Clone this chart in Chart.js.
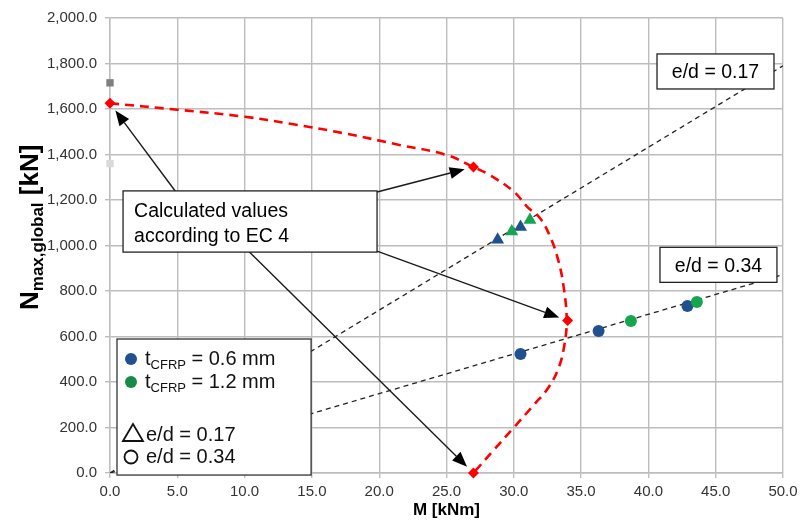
<!DOCTYPE html>
<html>
<head>
<meta charset="utf-8">
<script src="https://cdn.jsdelivr.net/npm/chart.js@4"></script>
<style>
  html, body { margin: 0; padding: 0; background: #fff; }
  #wrap { width: 804px; height: 521px; }
</style>
</head>
<body>
<div id="wrap"><canvas id="c" width="804" height="521"></canvas></div>
<script>
// values: M [kNm], N [kN]
const ecCurveM = [0, 5, 10, 13.4, 17.5, 21.5, 25, 27, 28.2, 30, 31, 31.95, 32.7, 33.3, 33.7, 33.93, 33.75, 33.35, 32.6, 31.5, 30, 28.5, 27];
const ecCurveN = [1625, 1597, 1566, 1535, 1492, 1442, 1398, 1345, 1310, 1237, 1170, 1120, 1039, 936, 819, 672, 560, 465, 378, 300, 200, 100, 0];
const ecPointsM = [0, 27, 34, 27];
const ecPointsN = [1625, 1345, 670, 0];
const greyM = [0];
const greyN = [1715];
const lightGreyM = [0];
const lightGreyN = [1360];
const lineM = [0, 50];
const line017N = [0, 1790];
const line034N = [0, 872];
const tri06M = [28.8, 30.5];
const tri06N = [1025, 1081];
const tri12M = [29.85, 31.2];
const tri12N = [1062, 1112];
const circ06M = [30.5, 36.3, 42.9];
const circ06N = [523, 624, 734];
const circ12M = [38.7, 43.6];
const circ12N = [668, 752];
const xTicks = [0, 5, 10, 15, 20, 25, 30, 35, 40, 45, 50];
const yTicks = [0, 200, 400, 600, 800, 1000, 1200, 1400, 1600, 1800, 2000];

const BLUE = '#21508f';
const GREEN = '#14a550';
const FONT = '"Liberation Sans", Arial, sans-serif';

function pts(xs, ys) {
    return xs.map((x, i) => ({ x: x, y: ys[i] }));
}

// annotation boxes in data units
const calcBox = { x0: 0.97, y0: 1240, x1: 19.84, y1: 971, lines: ['Calculated values', 'according to EC 4'] };
const box017 = { x0: 40.64, y0: 1842, x1: 49.33, y1: 1688, lines: ['e/d = 0.17'] };
const box034 = { x0: 40.86, y0: 992, x1: 49.55, y1: 838, lines: ['e/d = 0.34'] };
// arrow starts (on the calc box edges), targets are the EC 4 points
const arrowStarts = [[4.9, 1235], [19.84, 1235], [19.84, 975], [10.3, 975]];

function drawArrow(ctx, x0, y0, x1, y1) {
    const dx = x1 - x0, dy = y1 - y0;
    const len = Math.sqrt(dx * dx + dy * dy);
    const ux = dx / len, uy = dy / len;
    const tx = x1 - ux * 9, ty = y1 - uy * 9;
    const hl = 15, hw = 6;
    const bx = tx - ux * hl, by = ty - uy * hl;
    ctx.strokeStyle = '#1a1a1a';
    ctx.lineWidth = 1.4;
    ctx.beginPath();
    ctx.moveTo(x0, y0);
    ctx.lineTo(bx, by);
    ctx.stroke();
    ctx.fillStyle = '#000';
    ctx.beginPath();
    ctx.moveTo(tx, ty);
    ctx.lineTo(bx - uy * hw, by + ux * hw);
    ctx.lineTo(bx + uy * hw, by - ux * hw);
    ctx.closePath();
    ctx.fill();
}

function drawBox(ctx, xs, ys, b, align) {
    const l = xs.getPixelForValue(b.x0), r = xs.getPixelForValue(b.x1);
    const t = ys.getPixelForValue(b.y0), btm = ys.getPixelForValue(b.y1);
    ctx.fillStyle = '#fff';
    ctx.fillRect(l, t, r - l, btm - t);
    ctx.strokeStyle = '#222';
    ctx.lineWidth = 1.3;
    ctx.strokeRect(l, t, r - l, btm - t);
    ctx.fillStyle = '#000';
    ctx.font = '19.5px ' + FONT;
    ctx.textBaseline = 'alphabetic';
    if (align === 'center') {
        ctx.textAlign = 'center';
        ctx.fillText(b.lines[0], (l + r) / 2, (t + btm) / 2 + 7);
    } else {
        ctx.textAlign = 'left';
        b.lines.forEach((s, i) => ctx.fillText(s, l + 11, t + 26 + i * 25));
    }
}

const annotations = {
    id: 'annotations',
    afterDatasetsDraw(chart) {
        const ctx = chart.ctx;
        const xs = chart.scales.x, ys = chart.scales.y;
        ctx.save();
        // arrows to the EC 4 points
        arrowStarts.forEach((s, i) => {
            drawArrow(ctx, xs.getPixelForValue(s[0]), ys.getPixelForValue(s[1]),
                xs.getPixelForValue(ecPointsM[i]), ys.getPixelForValue(ecPointsN[i]));
        });
        drawBox(ctx, xs, ys, calcBox, 'left');
        drawBox(ctx, xs, ys, box017, 'center');
        drawBox(ctx, xs, ys, box034, 'center');

        // legend box
        const l = xs.getPixelForValue(0.52), r = xs.getPixelForValue(14.94);
        const t = ys.getPixelForValue(589), b = ys.getPixelForValue(-9);
        ctx.fillStyle = '#fff';
        ctx.fillRect(l, t, r - l, b - t);
        ctx.strokeStyle = '#333';
        ctx.lineWidth = 1.3;
        ctx.strokeRect(l, t, r - l, b - t);
        const rows = [
            { y: t + 26, color: BLUE, val: '0.6' },
            { y: t + 49, color: '#178a45', val: '1.2' }
        ];
        ctx.textAlign = 'left';
        ctx.textBaseline = 'alphabetic';
        rows.forEach(row => {
            ctx.fillStyle = row.color;
            ctx.beginPath();
            ctx.arc(l + 14, row.y - 6, 6, 0, Math.PI * 2);
            ctx.fill();
            ctx.fillStyle = '#111';
            ctx.font = '20px ' + FONT;
            let x = l + 28;
            ctx.fillText('t', x, row.y);
            x += ctx.measureText('t').width;
            ctx.font = '13px ' + FONT;
            ctx.fillText('CFRP', x, row.y + 4);
            x += ctx.measureText('CFRP').width;
            ctx.font = '20px ' + FONT;
            ctx.fillText(' = ' + row.val + ' mm', x, row.y);
        });
        // shape keys
        ctx.strokeStyle = '#111';
        ctx.lineWidth = 1.8;
        const ty = t + 102;
        ctx.beginPath();
        ctx.moveTo(l + 6, ty);
        ctx.lineTo(l + 16, ty - 17);
        ctx.lineTo(l + 26, ty);
        ctx.closePath();
        ctx.stroke();
        ctx.beginPath();
        ctx.arc(l + 14, t + 118, 6.5, 0, Math.PI * 2);
        ctx.stroke();
        ctx.fillStyle = '#111';
        ctx.font = '20px ' + FONT;
        ctx.fillText('e/d = 0.17', l + 29, ty);
        ctx.fillText('e/d = 0.34', l + 29, t + 124);

        // axis titles
        ctx.fillStyle = '#000';
        ctx.font = 'bold 17px ' + FONT;
        ctx.textAlign = 'center';
        ctx.textBaseline = 'middle';
        ctx.fillText('M [kNm]', (chart.chartArea.left + chart.chartArea.right) / 2, 510);

        ctx.translate(38, 310);
        ctx.rotate(-Math.PI / 2);
        ctx.textAlign = 'left';
        ctx.textBaseline = 'alphabetic';
        ctx.font = 'bold 26px ' + FONT;
        ctx.fillText('N', 0, 0);
        let x = ctx.measureText('N').width;
        ctx.font = 'bold 17px ' + FONT;
        ctx.fillText('max,global', x, 5);
        x += ctx.measureText('max,global').width;
        ctx.font = 'bold 26px ' + FONT;
        ctx.fillText(' [kN]', x, 0);
        ctx.restore();
    }
};

const gridColor = '#bdbdbd';

new Chart(document.getElementById('c'), {
    type: 'scatter',
    data: {
        datasets: [
            { data: pts(ecPointsM, ecPointsN), pointStyle: 'rectRot', pointRadius: 5.5,
              backgroundColor: '#ff0000', borderColor: '#ff0000', borderWidth: 0, clip: false },
            { data: pts(ecCurveM, ecCurveN), showLine: true, pointRadius: 0, tension: 0.4,
              borderColor: '#ff0000', borderWidth: 2.6, borderDash: [9, 6] },
            { data: pts(circ12M, circ12N), pointStyle: 'circle', pointRadius: 6,
              backgroundColor: GREEN, borderWidth: 0 },
            { data: pts(circ06M, circ06N), pointStyle: 'circle', pointRadius: 6,
              backgroundColor: BLUE, borderWidth: 0 },
            { data: pts(tri12M, tri12N), pointStyle: 'triangle', pointRadius: 7.5,
              backgroundColor: GREEN, borderWidth: 0 },
            { data: pts(tri06M, tri06N), pointStyle: 'triangle', pointRadius: 7.5,
              backgroundColor: BLUE, borderWidth: 0 },
            { data: pts(lineM, line017N), showLine: true, pointRadius: 0,
              borderColor: '#222', borderWidth: 1.3, borderDash: [5, 4] },
            { data: pts(lineM, line034N), showLine: true, pointRadius: 0,
              borderColor: '#222', borderWidth: 1.3, borderDash: [5, 4] },
            { data: pts(greyM, greyN), pointStyle: 'rect', pointRadius: 5.2,
              backgroundColor: '#7f7f7f', borderWidth: 0, clip: false },
            { data: pts(lightGreyM, lightGreyN), pointStyle: 'rect', pointRadius: 5.2,
              backgroundColor: '#d9d9d9', borderWidth: 0, clip: false }
        ]
    },
    options: {
        responsive: false,
        animation: false,
        events: [],
        layout: { padding: { left: 0, right: 21, top: 18, bottom: 0 } },
        plugins: { legend: { display: false }, tooltip: { enabled: false } },
        scales: {
            x: {
                type: 'linear', min: 0, max: 50,
                afterFit: s => { s.height = 48; },
                afterBuildTicks: s => { s.ticks = xTicks.map(v => ({ value: v })); },
                grid: { color: gridColor, lineWidth: 1.4, tickLength: 5, tickColor: gridColor },
                border: { color: gridColor, width: 1.4 },
                ticks: { padding: 5, color: '#333', font: { family: FONT, size: 15 },
                         callback: v => v.toFixed(1) }
            },
            y: {
                type: 'linear', min: 0, max: 2000,
                afterFit: s => { s.width = 110; },
                afterBuildTicks: s => { s.ticks = yTicks.map(v => ({ value: v })); },
                grid: { color: gridColor, lineWidth: 1.4, tickLength: 5, tickColor: gridColor },
                border: { color: gridColor, width: 1.4 },
                ticks: { padding: 8, color: '#333', font: { family: FONT, size: 15 },
                         callback: v => v.toLocaleString('en-US', { minimumFractionDigits: 1, maximumFractionDigits: 1 }) }
            }
        }
    },
    plugins: [annotations]
});
</script>
</body>
</html>
